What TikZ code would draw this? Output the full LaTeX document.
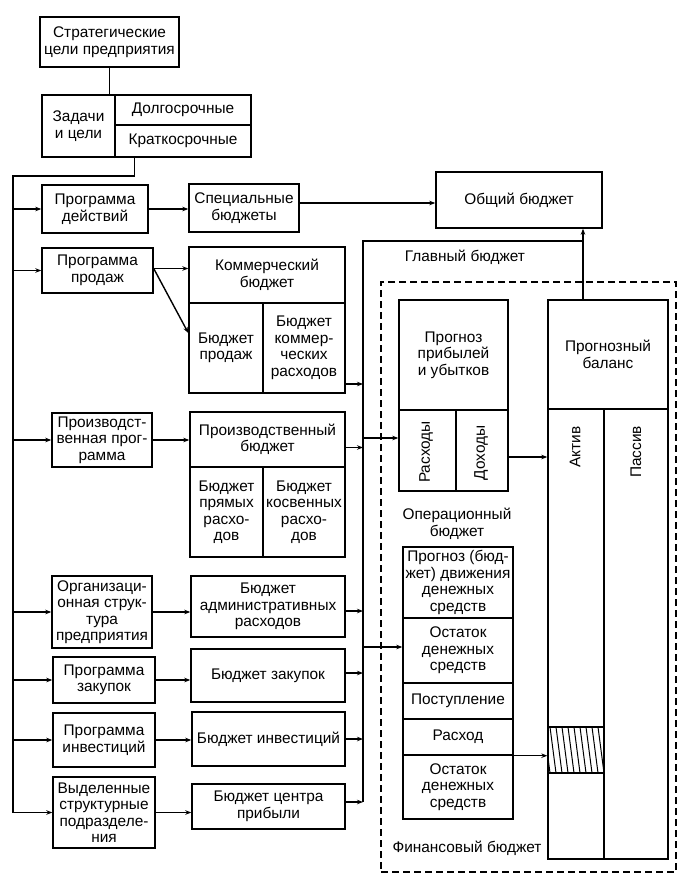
\documentclass[tikz,border=0pt]{standalone}
\usepackage{fontspec}
\setmainfont{Liberation Sans}
\usetikzlibrary{arrows.meta,calc}
\tikzset{
  bx/.style={draw, line width=1.4pt, align=center, inner sep=1pt,
    font=\fontsize{15.4}{16.5}\selectfont},
  lbl/.style={align=center, inner sep=0pt, font=\fontsize{15.4}{16.5}\selectfont},
  ln/.style={line width=1.4pt},
  arr/.style={line width=1.4pt, -{Stealth[length=6pt,width=4.5pt]}},
}
\newcommand\Bx[7][]{\node[bx,#1,minimum width={(#5-#3)*1pt},minimum height={(#6-#4)*1pt}] (#2) at ({(#3+#5)/2},{(#4+#6)/2}) {#7};}
\begin{document}
\begin{tikzpicture}[x=1pt,y=-1pt]
\useasboundingbox[fill=white] (0,0) rectangle (697,875);
% dashed frame
\Bx[dashed,dash pattern=on 7pt off 4pt]{finr}{381}{282}{676}{872}{}
% left part
\Bx{strat}{40}{17}{179}{67}{Стратегические\\цели предприятия}
\Bx{zad}{42}{95}{115}{157}{Задачи\\и цели}
\Bx{dolg}{115}{95}{251}{125}{Долгосрочные}
\Bx{krat}{115}{125}{251}{157}{Краткосрочные}
\Bx{pd}{42}{185}{148}{233}{Программа\\действий}
\Bx{spec}{189}{184}{299}{232}{Специальные\\бюджеты}
\Bx{obsh}{436}{172}{602}{228}{Общий бюджет}
\Bx{ppr}{42}{248}{153}{293}{Программа\\продаж}
\Bx{kom}{189}{247}{345}{303}{Коммерческий\\бюджет}
\Bx{bprod}{189}{303}{263}{393}{Бюджет\\продаж}
\Bx{bkr}{263}{303}{345}{393}{Бюджет\\коммер-\\ческих\\расходов}
\Bx{prp}{52}{413}{152}{467}{Производст-\\венная прог-\\рамма}
\Bx{prb}{190}{412}{345}{467}{Производственный\\бюджет}
\Bx{bpr}{190}{467}{263}{557}{Бюджет\\прямых\\расхо-\\дов}
\Bx{bkos}{263}{467}{345}{557}{Бюджет\\косвенных\\расхо-\\дов}
\Bx{org}{52}{576}{152}{648}{Организаци-\\онная струк-\\тура\\предприятия}
\Bx{adm}{191}{576}{345}{637}{Бюджет\\административных\\расходов}
\Bx{zak}{53}{657}{155}{703}{Программа\\закупок}
\Bx{bzak}{191}{649}{345}{702}{Бюджет закупок}
\Bx{inv}{53}{713}{155}{767}{Программа\\инвестиций}
\Bx{binv}{192}{712}{345}{766}{Бюджет инвестиций}
\Bx{vyd}{53}{777}{155}{848}{Выделенные\\структурные\\подразделе-\\ния}
\Bx{bcp}{192}{784}{345}{829}{Бюджет центра\\прибыли}
% right part
\Bx{ppu}{399}{300}{508}{410}{Прогноз\\прибылей\\и убытков}
\Bx{ras}{399}{410}{456}{491}{}
\Bx{doh}{456}{410}{508}{491}{}
\Bx{pbal}{548}{300}{668}{409}{Прогнозный\\баланс}
\Bx{akt}{548}{409}{604}{859}{}
\Bx{pas}{604}{409}{668}{859}{}
\Bx{pdds}{403}{547}{513}{618}{Прогноз (бюд-\\жет) движения\\денежных\\средств}
\Bx{ost1}{403}{618}{513}{683}{Остаток\\денежных\\средств}
\Bx{post}{403}{683}{513}{719}{Поступление}
\Bx{rash}{403}{719}{513}{755}{Расход}
\Bx{ost2}{403}{755}{513}{819}{Остаток\\денежных\\средств}
\Bx{hatch}{548}{727}{604}{773}{}
\begin{scope}
  \clip (hatch.south west) rectangle (hatch.north east);
  \foreach \i in {0,...,10} \draw[line width=1pt] ({544+6*\i},727) -- ({550+6*\i},773);
\end{scope}
% labels
\node[lbl,rotate=90] (rasL) at (426,452) {Расходы};
\node[lbl,rotate=90] (dohL) at (481,453) {Доходы};
\node[lbl,rotate=90] (aktL) at (575,447) {Актив};
\node[lbl,rotate=90] (pasL) at (636,452) {Пассив};
\node[lbl] (glL) at (465,257) {Главный бюджет};
\node[lbl] (opL) at (457,524) {Операционный\\бюджет};
\node[lbl] (finL) at (467,848) {Финансовый бюджет};
% connectors
\draw[ln] (strat.south) -- (strat.south |- zad.north);
\coordinate (busT) at (13,176);
\draw[arr] ([xshift=20pt]krat.south west) |- (busT) |- (vyd.west);
\foreach \n in {pd,ppr,prp,org,zak,inv} \draw[arr] (busT |- \n.west) -- (\n.west);
\draw[arr] (pd.east) -- (pd.east -| spec.west);
\draw[arr] ([yshift=5pt]spec.east) -- ([yshift=5pt]spec.east -| obsh.west);
\coordinate (pprO) at ([yshift=2pt]ppr.east);
\draw[arr] (pprO) -- (pprO -| kom.west);
\draw[arr] (pprO) -- ([yshift=15pt]bprod.west);
\draw[arr] (prp.east) -- (prp.east -| prb.west);
\draw[arr] (org.east) -- (org.east -| adm.west);
\draw[arr] (zak.east) -- (zak.east -| bzak.west);
\draw[arr] (inv.east) -- (inv.east -| binv.west);
\draw[arr] (vyd.east) -- (vyd.east -| bcp.west);
% main budget line
\coordinate (gl) at (363,241);
\coordinate (up) at ([xshift=-25pt]pbal.north);
\coordinate (bcpA) at ([yshift=4.5pt]bcp.east);
\draw[ln] (gl |- bcpA) -- (gl) -- (gl -| up);
\draw[arr] (up) -- (up |- obsh.south);
\coordinate (bkrA) at ([yshift=-36pt]bkr.east);
\coordinate (prbA) at ([yshift=-8pt]prb.east);
\coordinate (admA) at ([yshift=-4.5pt]adm.east);
\coordinate (bzakA) at ([yshift=2.5pt]bzak.east);
\coordinate (binvA) at (binv.east);
\foreach \c in {bkrA,prbA,admA,bzakA,binvA,bcpA} \draw[arr] (\c) -- (\c -| gl);
\coordinate (rasA) at ([yshift=12.5pt]ras.west);
\coordinate (ostA) at ([yshift=3.5pt]ost1.west);
\draw[arr] (rasA -| gl) -- (rasA);
\draw[arr] (ostA -| gl) -- (ostA);
\coordinate (dohA) at ([yshift=-6.5pt]doh.east);
\draw[arr] (dohA) -- (dohA -| akt.west);
\draw[arr] (rash.south east) -- (rash.south east -| hatch.west);
\end{tikzpicture}
\end{document}
